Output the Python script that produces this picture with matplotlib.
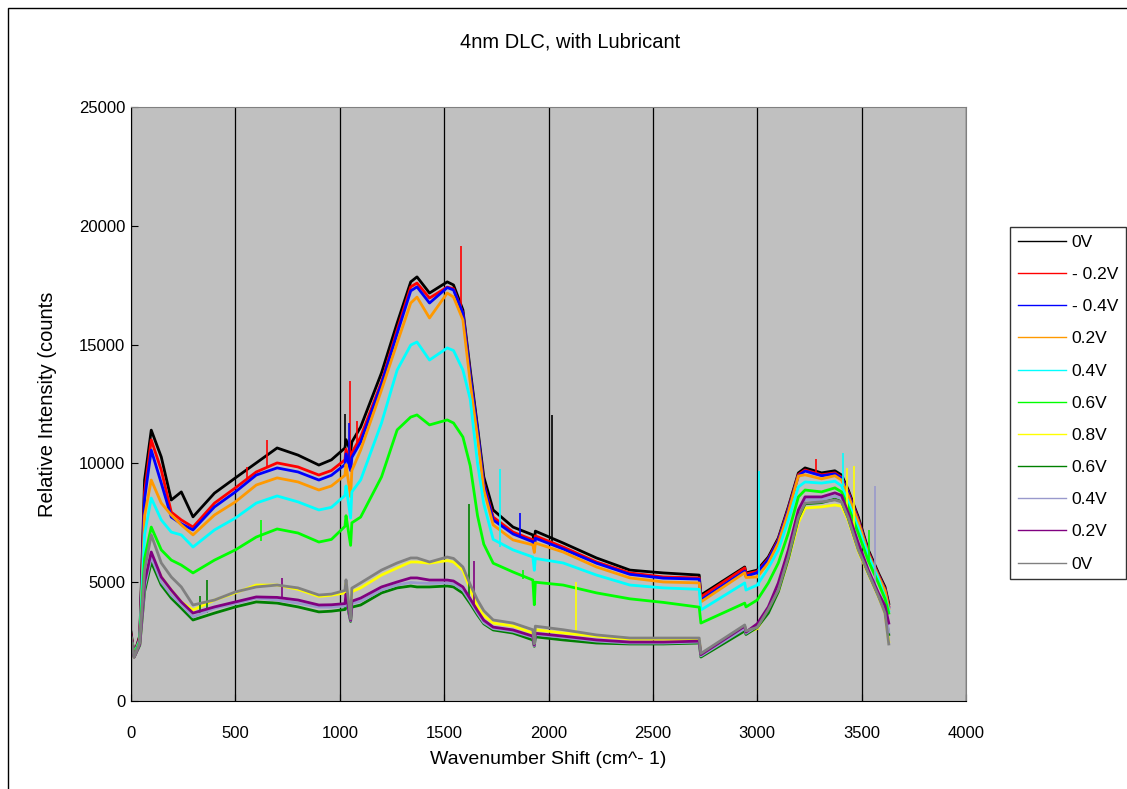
import matplotlib
matplotlib.use("Agg")
import matplotlib.pyplot as plt
from matplotlib.patches import Rectangle

plt.rcParams['font.family'] = ['Liberation Sans', 'DejaVu Sans']

# Raman shift sample points (cm^-1)
shift = [0, 15, 42, 65, 97, 145, 193, 241, 297, 400,
         500, 600, 700, 800, 900, 960, 1025, 1030, 1052, 1058,
         1100, 1200, 1275, 1340, 1370, 1430, 1515, 1545, 1590, 1625,
         1660, 1690, 1735, 1830, 1925, 1932, 1937, 2070, 2230, 2390,
         2550, 2722, 2730, 2940, 2946, 3000, 3053, 3101, 3149, 3197,
         3229, 3308, 3372, 3404, 3436, 3484, 3532, 3580, 3612, 3630]

# intensity (counts) per bias voltage run
up_0v = [2900, 1950, 2750, 9300, 11400, 10270, 8460, 8800, 7750, 8750,
         9390, 10020, 10650, 10350, 9930, 10150, 10650, 11000, 10500, 10900,
         11530, 13810, 15910, 17640, 17850, 17170, 17640, 17510, 16460, 13930,
         11530, 9430, 8040, 7320, 6990, 6700, 7150, 6650, 6020, 5510,
         5390, 5300, 4460, 5640, 5390, 5510, 6060, 6860, 8170, 9600,
         9810, 9600, 9690, 9510, 8880, 7740, 6360, 5390, 4800, 4100]
neg_02v = [2800, 1950, 2700, 8800, 10990, 9720, 7950, 7620, 7320, 8330,
           8970, 9640, 10020, 9850, 9510, 9700, 10150, 10600, 9900, 10450,
           11110, 13430, 15620, 17430, 17590, 16960, 17420, 17350, 16320, 13700,
           11320, 9150, 7740, 7110, 6780, 6500, 6950, 6480, 5850, 5390,
           5220, 5180, 4380, 5600, 5350, 5450, 5990, 6800, 8100, 9530,
           9720, 9520, 9600, 9420, 8800, 7650, 6280, 5320, 4720, 4000]
neg_04v = [2750, 1950, 2650, 8500, 10560, 9170, 7740, 7460, 7200, 8170,
           8800, 9510, 9810, 9640, 9300, 9500, 9950, 10400, 9700, 10250,
           10900, 13350, 15470, 17260, 17430, 16750, 17400, 17300, 16320, 13700,
           11400, 9100, 7620, 7030, 6700, 6400, 6850, 6400, 5800, 5330,
           5170, 5130, 4250, 5470, 5250, 5400, 5950, 6750, 8050, 9480,
           9680, 9480, 9560, 9380, 8750, 7600, 6230, 5280, 4680, 3950]
up_02v = [2700, 1950, 2600, 7800, 9300, 8330, 7830, 7410, 6990, 7830,
          8380, 9090, 9390, 9220, 8880, 9050, 9500, 9950, 8600, 9700,
          10560, 13090, 15070, 16750, 17000, 16120, 17170, 17000, 16040, 13400,
          11110, 8900, 7410, 6780, 6570, 6250, 6650, 6270, 5640, 5180,
          5010, 4970, 4170, 5400, 5200, 5220, 5810, 6650, 7950, 9470,
          9520, 9350, 9480, 9300, 8650, 7550, 6200, 5250, 4650, 3900]
up_04v = [2650, 1950, 2550, 7000, 8540, 7620, 7110, 6990, 6480, 7200,
          7700, 8330, 8630, 8380, 8040, 8150, 8650, 9050, 7700, 8800,
          9300, 11700, 13930, 14980, 15110, 14350, 14860, 14750, 13930, 12700,
          10000, 8300, 6800, 6360, 6060, 5500, 6000, 5810, 5300, 4880,
          4760, 4700, 3830, 4970, 4670, 4880, 5600, 6360, 7620, 9010,
          9220, 9170, 9250, 9050, 8380, 7300, 6110, 5150, 4380, 3800]
up_06v = [2600, 1950, 2500, 6000, 7320, 6360, 5930, 5720, 5390, 5930,
          6360, 6900, 7240, 7070, 6690, 6800, 7350, 7800, 6550, 7500,
          7740, 9430, 11410, 11950, 12040, 11620, 11830, 11700, 11110, 9900,
          7800, 6600, 5800, 5430, 5090, 4050, 5000, 4880, 4550, 4300,
          4150, 3950, 3280, 4120, 3960, 4250, 4970, 5810, 7070, 8590,
          8880, 8800, 8970, 8800, 8170, 7070, 5900, 4970, 4300, 3700]
up_08v = [2600, 1850, 2400, 4900, 6060, 5220, 4670, 4170, 3830, 4250,
          4550, 4880, 4880, 4700, 4400, 4450, 4550, 4950, 3400, 4600,
          4760, 5300, 5600, 5850, 5850, 5800, 5910, 5850, 5500, 4700,
          3960, 3600, 3280, 3160, 2860, 2400, 3000, 2860, 2730, 2600,
          2600, 2570, 1950, 2990, 2850, 3050, 3800, 4600, 5950, 7500,
          8120, 8170, 8250, 8200, 7600, 6300, 5350, 4400, 3700, 2500]
down_06v = [2500, 1850, 2350, 4600, 5850, 4880, 4330, 3910, 3410, 3700,
            3960, 4170, 4120, 3960, 3750, 3780, 3850, 4250, 3350, 3950,
            4040, 4550, 4760, 4840, 4800, 4800, 4840, 4800, 4540, 4100,
            3620, 3250, 2990, 2860, 2570, 2300, 2700, 2570, 2440, 2400,
            2400, 2440, 1850, 2950, 2800, 3100, 3700, 4600, 6000, 7700,
            8300, 8350, 8500, 8400, 7700, 6400, 5400, 4450, 3800, 2800]
down_04v = [2550, 1850, 2400, 4800, 6060, 5010, 4460, 4050, 3540, 3900,
            4100, 4330, 4250, 4120, 3950, 3950, 4000, 4400, 3380, 4100,
            4200, 4670, 4890, 4990, 4970, 4950, 4970, 4930, 4670, 4200,
            3700, 3300, 3050, 2930, 2680, 2320, 2800, 2680, 2520, 2440,
            2440, 2480, 1900, 3050, 2850, 3150, 3900, 4800, 6200, 7900,
            8480, 8480, 8620, 8520, 7800, 6500, 5450, 4480, 3850, 2900]
down_02v = [2600, 1850, 2400, 5000, 6270, 5220, 4670, 4170, 3700, 3960,
            4170, 4380, 4360, 4250, 4040, 4050, 4100, 4500, 3400, 4200,
            4330, 4800, 5010, 5180, 5180, 5090, 5090, 5050, 4800, 4300,
            3800, 3400, 3110, 2990, 2730, 2350, 2850, 2730, 2570, 2480,
            2480, 2520, 1950, 3150, 2900, 3250, 3960, 4970, 6360, 8040,
            8590, 8590, 8760, 8650, 7910, 6650, 5510, 4550, 4010, 3280]
down_0v = [2600, 1850, 2450, 5500, 6990, 5810, 5220, 4800, 4040, 4250,
           4590, 4800, 4880, 4760, 4460, 4500, 4650, 5100, 3450, 4750,
           4970, 5510, 5810, 6020, 6020, 5850, 6060, 6000, 5640, 4900,
           4250, 3800, 3410, 3280, 3000, 2400, 3150, 3000, 2780, 2650,
           2650, 2650, 2000, 3200, 2950, 3100, 3850, 4670, 6060, 7740,
           8330, 8380, 8460, 8380, 7700, 6360, 5390, 4420, 3700, 2400]

# cosmic-ray spikes: (shift, base, top)
spk_up_0v = [(1027, 10650, 12100), (2015, 6550, 12050)]
spk_neg_02v = [(556, 9300, 9850), (651, 9800, 11000), (1050, 10200, 13450),
               (1082, 10900, 11800), (1580, 16500, 19150), (3280, 9550, 10200)]
spk_neg_04v = [(1045, 10000, 11700), (1862, 6950, 7900)]
spk_up_04v = [(1770, 6500, 9750), (3008, 4850, 9700), (3409, 9050, 10450)]
spk_up_06v = [(623, 6750, 7600), (1878, 5150, 5500), (3535, 5900, 7200)]
spk_up_08v = [(2130, 2800, 5000), (3431, 7600, 9800), (3465, 7000, 9900)]
spk_down_06v = [(330, 3650, 4400), (364, 3700, 5100), (1620, 4200, 8300)]
spk_down_04v = [(3564, 4900, 9050)]
spk_down_02v = [(723, 4360, 5180), (1643, 4100, 5900)]

labels = ['0V', '- 0.2V', '- 0.4V', '0.2V', '0.4V', '0.6V',
          '0.8V', '0.6V', '0.4V', '0.2V', '0V']
colors = ['#000000', '#FF0000', '#0000FF', '#FF9900', '#00FFFF', '#00FF00',
          '#FFFF00', '#008000', '#9999CC', '#800080', '#808080']
runs = [up_0v, neg_02v, neg_04v, up_02v, up_04v, up_06v,
        up_08v, down_06v, down_04v, down_02v, down_0v]
spikes = [spk_up_0v, spk_neg_02v, spk_neg_04v, [], spk_up_04v, spk_up_06v,
          spk_up_08v, spk_down_06v, spk_down_04v, spk_down_02v, []]

fig = plt.figure(figsize=(11.27, 7.89), dpi=100)
ax = fig.add_axes([131 / 1127, 1 - 701 / 789, 835 / 1127, 594 / 789])
ax.set_facecolor('#C0C0C0')

for lab, col, ys, sp in zip(labels, colors, runs, spikes):
    ax.plot(shift, ys, color=col, lw=2.0, label=lab)
    for x, lo, hi in sp:
        ax.vlines(x, lo, hi, color=col, lw=1.2)

ax.set_xlim(0, 4000)
ax.set_ylim(0, 25000)
ax.set_xticks(range(0, 4001, 500))
ax.set_yticks(range(0, 25001, 5000))
ax.grid(axis='x', color='black', lw=0.9)
ax.set_axisbelow(True)
ax.tick_params(axis='both', direction='in', length=5, labelsize=12, color='black')
ax.tick_params(axis='x', pad=18)
ax.tick_params(axis='y', pad=4)
for s in ['top', 'right']:
    ax.spines[s].set_color('#808080')
for s in ['left', 'bottom']:
    ax.spines[s].set_color('black')

ax.set_xlabel('Wavenumber Shift (cm^- 1)', fontsize=14, labelpad=7)
ax.set_ylabel('Relative Intensity (counts', fontsize=14.5, labelpad=16)
fig.text(570 / 1127, 1 - 42 / 789, '4nm DLC, with Lubricant',
         ha='center', va='center', fontsize=14.5)

leg = fig.legend(loc='upper left', bbox_to_anchor=(1010 / 1127, 1 - 227 / 789),
                 fontsize=12.5, frameon=True, fancybox=False, edgecolor='black',
                 handlelength=2.8, handletextpad=0.3, labelspacing=0.98,
                 borderaxespad=0, borderpad=0.45)
leg.get_frame().set_linewidth(1.0)
for h in leg.get_lines():
    h.set_linewidth(1.0)

# outer chart border
fig.patches.append(Rectangle((8 / 1127, -0.05), 1.1, 1.05 - 8 / 789,
                             transform=fig.transFigure, fill=False,
                             edgecolor='black', lw=1.0))

fig.savefig('out.png', dpi=100)
